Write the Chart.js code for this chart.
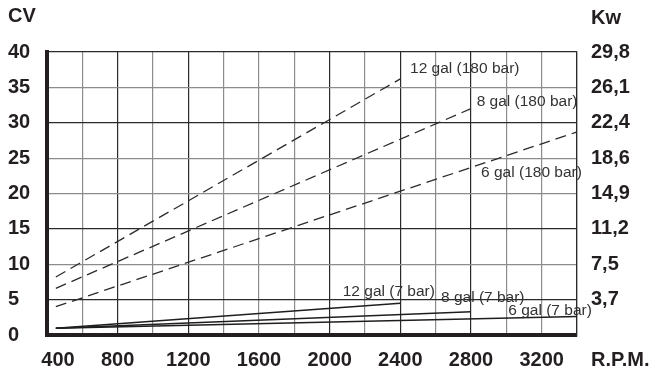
<!DOCTYPE html>
<html>
<head>
<meta charset="utf-8">
<script src="https://cdn.jsdelivr.net/npm/chart.js@4/dist/chart.umd.min.js"></script>
<style>
  body { margin: 0; background: #fff; }
  canvas { display: block; }
</style>
</head>
<body>
<canvas id="powerChart" width="658" height="376"></canvas>
<script>
// rpm range and tick labels
const rpmTicks = [400, 800, 1200, 1600, 2000, 2400, 2800, 3200];
const cvTicks = [0, 5, 10, 15, 20, 25, 30, 35, 40];
const kwTicks = ['', '3,7', '7,5', '11,2', '14,9', '18,6', '22,4', '26,1', '29,8'];

// series (rpm -> CV)
const rpm12 = [450, 2400];
const rpm8 = [450, 2800];
const rpm6 = [450, 3400];
const gal12_180 = [8.2, 36.2];
const gal8_180 = [6.6, 32.0];
const gal6_180 = [4.0, 28.7];
const gal12_7 = [0.95, 4.5];
const gal8_7 = [0.95, 3.3];
const gal6_7 = [0.95, 2.6];

// curve captions, anchored in rpm / CV
const captions = [
    { text: '12 gal (180 bar)', rpm: 2455, cv: 37.7 },
    { text: '8 gal (180 bar)', rpm: 2832, cv: 33.0 },
    { text: '6 gal (180 bar)', rpm: 2857, cv: 22.9 },
    { text: '12 gal (7 bar)', rpm: 2074, cv: 6.1 },
    { text: '8 gal (7 bar)', rpm: 2630, cv: 5.2 },
    { text: '6 gal (7 bar)', rpm: 3011, cv: 3.4 }
];

const ink = '#231f20';
const darkGrid = '#2a2a2a';
const grayGrid = '#8c8c8c';
const darkX = [400, 800, 1200, 2000, 2400, 2800, 3400];
const darkY = [0, 5, 15, 30, 40];

function pts(xs, ys) {
    return xs.map((v, i) => ({ x: v, y: ys[i] }));
}

function dashed(data) {
    return { data: data, borderColor: '#2b2b2b', borderWidth: 1.3, borderDash: [11, 6], pointRadius: 0, fill: false };
}
function solid(data) {
    return { data: data, borderColor: '#1e1e1e', borderWidth: 1.5, pointRadius: 0, fill: false };
}

const textPlugin = {
    id: 'texts',
    afterDraw(chart) {
        const { ctx, scales: { x, y } } = chart;
        ctx.save();
        ctx.fillStyle = ink;
        ctx.font = 'bold 20px Arial';
        ctx.textBaseline = 'middle';
        ctx.textAlign = 'center';
        rpmTicks.forEach(v => {
            const px = x.getPixelForValue(v) + (v === x.min ? 11 : 0);
            ctx.fillText(String(v), px, 360);
        });
        ctx.textAlign = 'left';
        ctx.fillText('R.P.M.', x.right + 14, 360);
        ctx.fillText('CV', 8, 16);
        ctx.fillText('Kw', x.right + 14, 18);

        ctx.font = '15.5px Arial';
        ctx.fillStyle = '#333';
        captions.forEach(c => {
            ctx.fillText(c.text, x.getPixelForValue(c.rpm), y.getPixelForValue(c.cv));
        });
        ctx.restore();
    }
};

new Chart(document.getElementById('powerChart').getContext('2d'), {
    type: 'line',
    data: {
        datasets: [
            dashed(pts(rpm12, gal12_180)),
            dashed(pts(rpm8, gal8_180)),
            dashed(pts(rpm6, gal6_180)),
            solid(pts(rpm12, gal12_7)),
            solid(pts(rpm8, gal8_7)),
            solid(pts(rpm6, gal6_7))
        ]
    },
    options: {
        responsive: false,
        animation: false,
        devicePixelRatio: 1,
        layout: { padding: { top: 52, left: 8, right: 0, bottom: 0 } },
        plugins: {
            legend: { display: false },
            tooltip: { enabled: false }
        },
        scales: {
            x: {
                type: 'linear',
                min: 400,
                max: 3400,
                ticks: { stepSize: 200, display: false },
                grid: {
                    drawTicks: false,
                    lineWidth: 1.2,
                    color: c => darkX.includes(c.tick.value) ? darkGrid : grayGrid
                },
                border: { width: 4, color: ink },
                afterFit: s => { s.height = 41; }
            },
            y: {
                position: 'left',
                min: 0,
                max: 40,
                ticks: {
                    stepSize: 5,
                    crossAlign: 'far',
                    color: ink,
                    font: { family: 'Arial', size: 20, weight: 'bold' }
                },
                grid: {
                    drawTicks: false,
                    lineWidth: 1.2,
                    color: c => darkY.includes(c.tick.value) ? darkGrid : grayGrid
                },
                border: { width: 4, color: ink },
                afterFit: s => { s.width = 39; }
            },
            y2: {
                position: 'right',
                min: 0,
                max: 40,
                ticks: {
                    stepSize: 5,
                    padding: 14,
                    color: ink,
                    font: { family: 'Arial', size: 20, weight: 'bold' },
                    callback: v => kwTicks[v / 5]
                },
                grid: { display: false, drawTicks: false },
                border: { width: 1.2, color: darkGrid },
                afterFit: s => { s.width = 81; }
            }
        }
    },
    plugins: [textPlugin]
});
</script>
</body>
</html>
